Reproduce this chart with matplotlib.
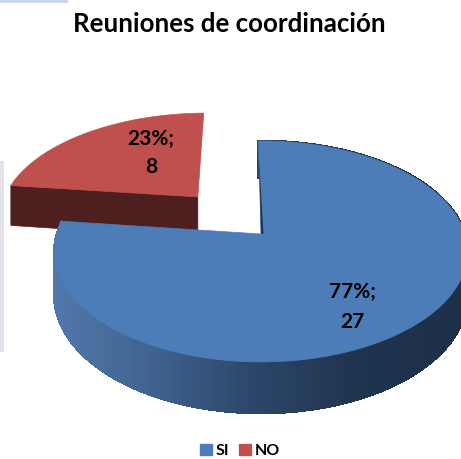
import numpy as np
import matplotlib
matplotlib.use('Agg')
import matplotlib.pyplot as plt
from matplotlib.patches import Polygon, Rectangle, Patch
from matplotlib.colors import LinearSegmentedColormap

title = 'Reuniones de coordinación'
categories = ['SI', 'NO']
counts = [27, 8]
percents = ['77%', '23%']
top_colors = ['#4d7db8', '#bf504d']

plt.rcParams['font.family'] = ['Lato', 'DejaVu Sans']

# perspective of the disc, in pixels of the picture
cx, cy = 261, 234
R, H, k = 204, 107.7, 0.158
depth = 43
start = -0.8
explode = [0, 0.49]


def proj(u, v, z=0):
    s = 1 + k * v
    return cx + R * u / s, cy + (z - H * v) / s


def rim(a, r=1.0, off=(0, 0), z=0):
    a = np.radians(a)
    return proj(off[0] + r * np.sin(a), off[1] + r * np.cos(a), z)


fig = plt.figure('reuniones', figsize=(4.61, 4.59), dpi=100)
ax = fig.add_axes([0, 0, 1, 1])
ax.set_xlim(0, 461)
ax.set_ylim(459, 0)
ax.axis('off')

# bits of the page around the chart
ax.add_patch(Rectangle((0, 0), 68, 2.5, color='#c6d9f1', lw=0))
ax.add_patch(Rectangle((0, 161), 4, 191, color='#e4e0ec', lw=0))

sweeps = np.array(counts) / sum(counts) * 360
side_map = LinearSegmentedColormap.from_list('side', ['#5078aa', '#3f628f', '#2c4669', '#1f344f', '#1d3049'])

# red slice goes first, blue one covers it
a0 = start + sweeps[0]
a1 = a0 + sweeps[1]
mid = np.radians((a0 + a1) / 2)
off = (explode[1] * np.sin(mid), explode[1] * np.cos(mid))
ang = np.linspace(a0, a1, 80)
apex = proj(off[0], off[1])
apex_low = proj(off[0], off[1], depth)
ax.add_patch(Polygon([apex, apex_low, rim(a0, off=off, z=depth), rim(a0, off=off)],
                     color='#4d1f1f', lw=0.5, zorder=2))
face = [apex] + [rim(a, off=off) for a in ang]
ax.add_patch(Polygon(face, color=top_colors[1], lw=0.5, zorder=3))

# blue slice: side strip shaded along the rim, then the top
ang = np.linspace(start, start + sweeps[0], 300)
for a, b in zip(ang[:-1], ang[1:]):
    xa, ya = rim(a)
    xb, yb = rim(b)
    xa2, ya2 = rim(a, z=depth)
    xb2, yb2 = rim(b, z=depth)
    c = side_map(np.clip((xa - 55) / 400, 0, 1))
    ax.add_patch(Polygon([(xa, ya), (xb, yb), (xb2, yb2), (xa2, ya2)],
                         facecolor=c, edgecolor=c, lw=1.2, antialiased=False, zorder=4))
face = [(cx, cy)] + [rim(a) for a in ang]
ax.add_patch(Polygon(face, color=top_colors[0], lw=0.5, zorder=5))

# dark sliver of the cut face
x_top, y_top = rim(start, r=0.8)
ax.add_patch(Polygon([(x_top, y_top), (cx, cy), (cx + 2.5, cy)], color='#1f344f', lw=0, zorder=6))

ax.text(229, 24, title, ha='center', va='center', fontsize=18.6, fontweight='bold', color='black', zorder=8)

label_pos = [(352, 292, 322), (151, 139, 167)]
for i in range(2):
    x, y1, y2 = label_pos[i]
    ax.text(x, y1, percents[i] + ';', ha='center', va='center', fontsize=15, fontweight='bold', zorder=8)
    ax.text(x, y2, str(counts[i]), ha='center', va='center', fontsize=15, fontweight='bold', zorder=8)

handles = [Patch(color=top_colors[i]) for i in range(2)]
ax.legend(handles, categories, loc='center', bbox_to_anchor=(0.52, 0.0175), ncols=2, frameon=False,
          handlelength=0.75, handleheight=0.75, handletextpad=0.22, columnspacing=0.65,
          prop={'size': 11.5, 'weight': 'bold'}, borderpad=0, borderaxespad=0)

plt.savefig('out.png', dpi=100)
